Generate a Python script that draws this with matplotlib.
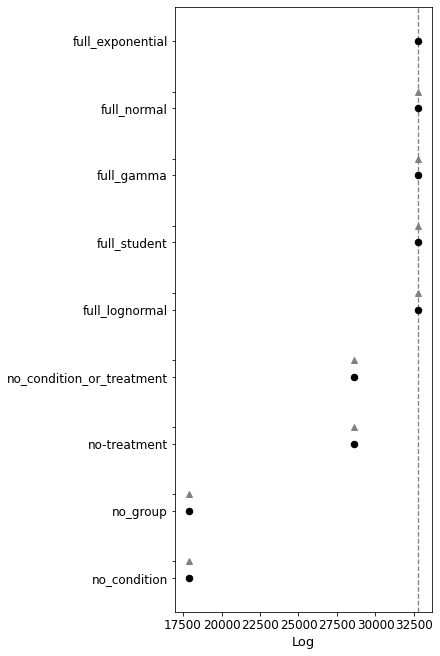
import numpy as np
import matplotlib
matplotlib.use("Agg")
import matplotlib.pyplot as plt

# models, best first (as in a model comparison table)
models = ["full_exponential", "full_normal", "full_gamma", "full_student",
          "full_lognormal", "no_condition_or_treatment", "no-treatment",
          "no_group", "no_condition"]
elpd = [32780, 32775, 32762, 32755, 32748, 28620, 28615, 17910, 17905]
se = [20, 20, 20, 20, 20, 20, 20, 20, 20]
dse = [0, 15, 15, 15, 15, 20, 20, 20, 20]

n = len(models)
ypos = np.arange(n)[::-1].astype(float)   # top model at the top
ypos_diff = ypos[1:] + 0.25

fig = plt.figure(figsize=(440 / 72, 656 / 72), dpi=72)
ax = fig.add_axes([175 / 440, 1 - 612 / 656, 257 / 440, 605 / 656])

ax.errorbar(elpd[1:], ypos_diff, xerr=dse[1:], fmt="^", color="grey",
            markersize=6, lw=1)
ax.errorbar(elpd, ypos, xerr=se, fmt="o", color="black", markersize=6.5,
            mfc="black", lw=1)
ax.axvline(elpd[0], ls="--", color="gray", lw=1.3)

ticks = np.concatenate([ypos, ypos_diff])
labels = models + [""] * (n - 1)
ax.set_yticks(ticks)
ax.set_yticklabels(labels, fontsize=12)
ax.set_xticks([17500, 20000, 22500, 25000, 27500, 30000, 32500])
ax.tick_params(axis="x", labelsize=12)
ax.set_xlim(16980, 33670)
ax.set_ylim(-0.51, 8.51)
ax.set_xlabel("Log", fontsize=13)

fig.savefig("out.png", dpi=72)
